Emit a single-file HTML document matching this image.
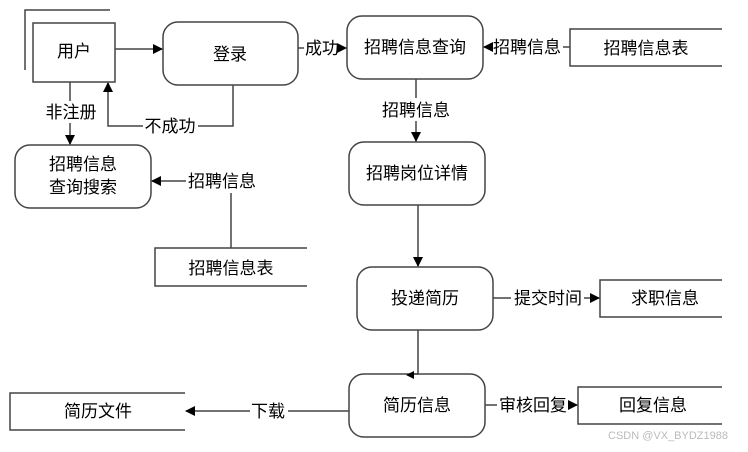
<!DOCTYPE html>
<html><head><meta charset="utf-8"><style>
body{margin:0;background:#fff}
text{font-family:"Liberation Sans","Noto Sans CJK SC",sans-serif;font-size:17px;fill:#000}
</style></head><body>
<svg width="748" height="447" xmlns="http://www.w3.org/2000/svg">
<defs><marker id="a" markerWidth="10" markerHeight="10" refX="9" refY="5" orient="auto" markerUnits="userSpaceOnUse"><path d="M0,0 L10,5 L0,10z" fill="#000"/></marker></defs>
<g fill="none" stroke="#444" stroke-width="1.5">
<path d="M25,70 V10 H110"/>
<rect x="33" y="23" width="82" height="59"/>
<rect x="163" y="22" width="135" height="63" rx="15"/>
<rect x="347" y="16" width="136" height="63" rx="15"/>
<path d="M722,29 H570 V66 H722"/>
<rect x="349" y="142" width="136" height="63" rx="15"/>
<rect x="15" y="145" width="136" height="63" rx="15"/>
<path d="M307,248 H155 V286 H307"/>
<rect x="357" y="267" width="136" height="63" rx="15"/>
<path d="M722,280 H600 V317 H722"/>
<rect x="349" y="374" width="136" height="63" rx="15"/>
<path d="M722,387 H578 V424 H722"/>
<path d="M185,393 H10 V430 H185"/>
</g>
<g fill="none" stroke="#444" stroke-width="1.5">
<path d="M115,49 H162" marker-end="url(#a)"/>
<path d="M298,48 H304"/><path d="M340,48 H346" marker-end="url(#a)"/>
<path d="M570,47 H563"/><path d="M492,47 H484" marker-end="url(#a)"/>
<path d="M416,79 V98"/><path d="M416,121 V141" marker-end="url(#a)"/>
<path d="M233,85 V126 H198"/><path d="M143,126 H108 V83" marker-end="url(#a)"/>
<path d="M70,82 V101"/><path d="M70,123 V144" marker-end="url(#a)"/>
<path d="M231,248 V193"/><path d="M186,181 H152" marker-end="url(#a)"/>
<path d="M418,205 V266" marker-end="url(#a)"/>
<path d="M493,298 H511"/><path d="M584,298 H599" marker-end="url(#a)"/>
<path d="M418,330 V374 H410"/>
<path d="M349,411 H288"/><path d="M250,411 H186" marker-end="url(#a)"/>
<path d="M485,405 H497"/><path d="M569,405 H577" marker-end="url(#a)"/>
</g>
<path d="M406,375 L414,371 L414,379z" fill="#000"/>
<g text-anchor="middle">
<text x="74" y="57">用户</text>
<text x="230" y="60">登录</text>
<text x="322" y="54">成功</text>
<text x="415" y="53">招聘信息查询</text>
<text x="527" y="53">招聘信息</text>
<text x="646" y="54">招聘信息表</text>
<text x="416" y="116">招聘信息</text>
<text x="417" y="179">招聘岗位详情</text>
<text x="170" y="132">不成功</text>
<text x="71" y="118">非注册</text>
<text x="83" y="170">招聘信息</text>
<text x="83" y="193">查询搜索</text>
<text x="222" y="187">招聘信息</text>
<text x="231" y="274">招聘信息表</text>
<text x="425" y="304">投递简历</text>
<text x="548" y="304">提交时间</text>
<text x="665" y="304">求职信息</text>
<text x="417" y="411">简历信息</text>
<text x="268" y="417">下载</text>
<text x="533" y="411">审核回复</text>
<text x="653" y="411">回复信息</text>
<text x="98" y="417">简历文件</text>
</g>
<text x="728" y="439" text-anchor="end" style="font-size:11px;fill:#bbb">CSDN @VX_BYDZ1988</text>
</svg>
</body></html>
